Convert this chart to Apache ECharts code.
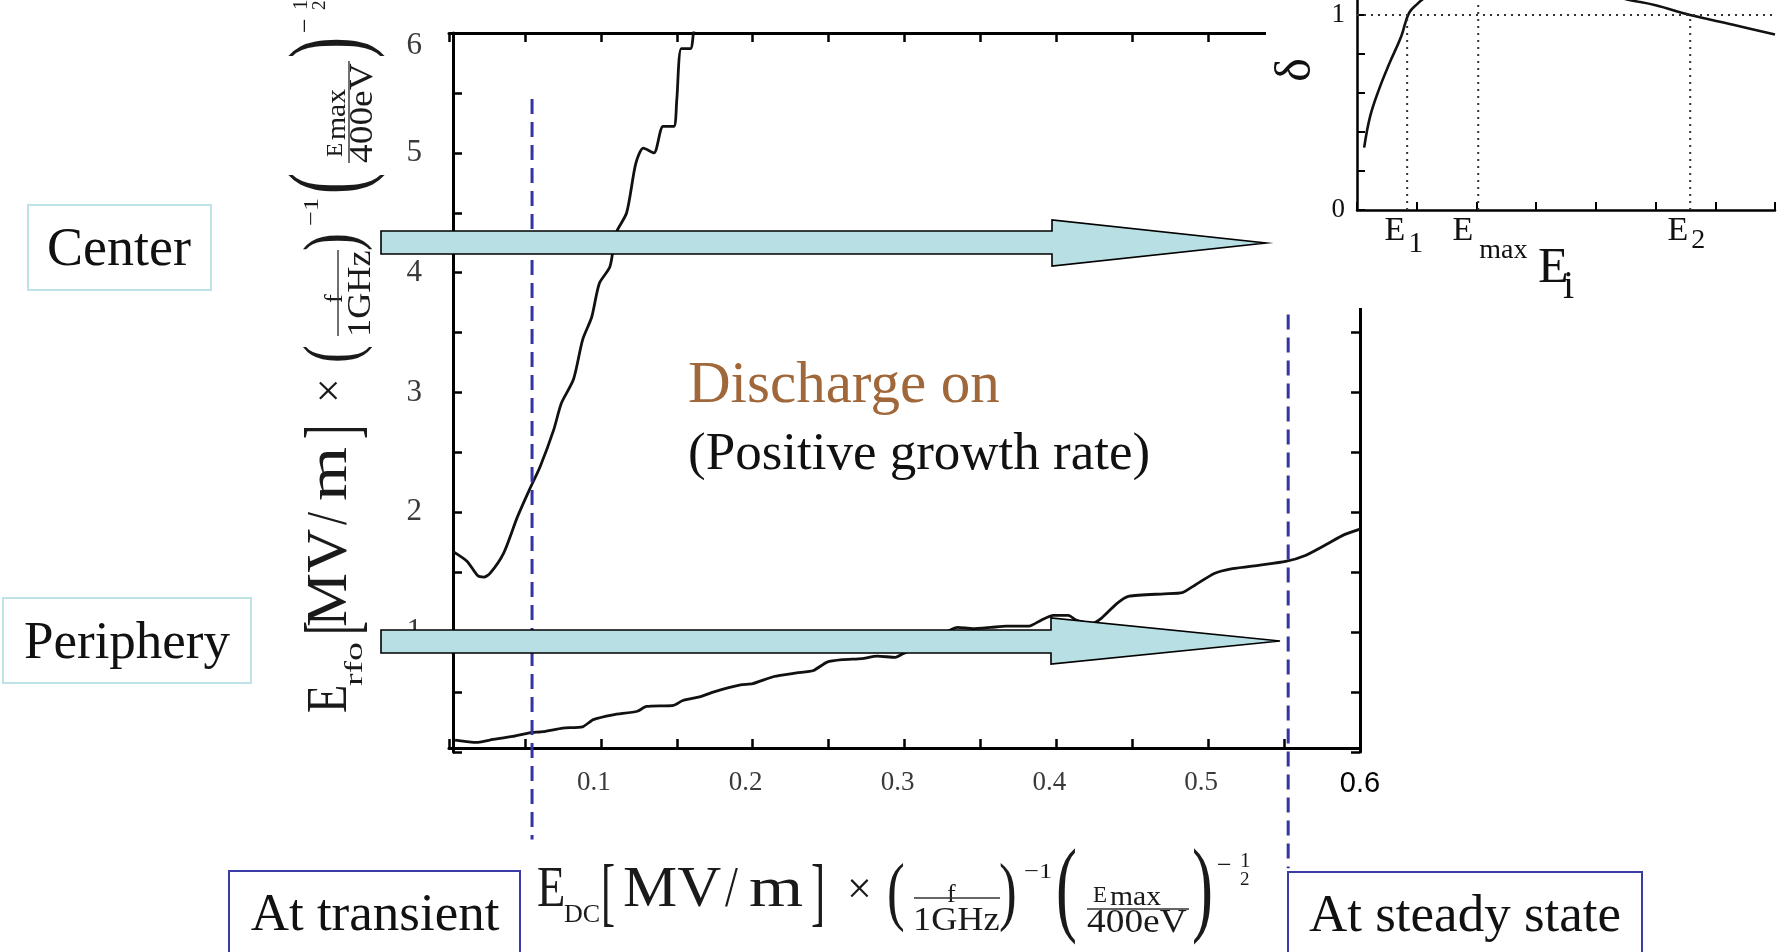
<!DOCTYPE html>
<html>
<head>
<meta charset="utf-8">
<title>Discharge onset map</title>
<script src="https://cdn.jsdelivr.net/npm/echarts@6.0.0/dist/echarts.min.js"></script>
<style>
  html, body { margin: 0; padding: 0; background: #fff; }
  #chart { width: 1785px; height: 952px; }
</style>
</head>
<body>
<div id="chart"></div>
<script>
(function () {
  'use strict';

  const SERIF = '"Liberation Serif", "Times New Roman", serif';
  const SANS = '"Liberation Sans", Arial, sans-serif';

  // main plot: threshold E_rfo vs E_DC
  const xRange = [0, 0.6];
  const yRange = [0, 6];
  const centerCurve = [
    [0.003, 1.67], [0.012, 1.59], [0.019, 1.47], [0.023, 1.46], [0.027, 1.49],
    [0.036, 1.66], [0.045, 1.96], [0.053, 2.19], [0.060, 2.38], [0.069, 2.69],
    [0.074, 2.91], [0.082, 3.11], [0.088, 3.44], [0.094, 3.63], [0.099, 3.91],
    [0.106, 4.05], [0.110, 4.33], [0.117, 4.50], [0.123, 4.91], [0.128, 5.04],
    [0.135, 5.00], [0.141, 5.22], [0.148, 5.22], [0.150, 5.44], [0.153, 5.87],
    [0.159, 5.87], [0.161, 6.00], [0.163, 6.15]
  ];
  const peripheryCurve = [
    [0.004, 0.10], [0.018, 0.08], [0.027, 0.10], [0.042, 0.13], [0.053, 0.16],
    [0.062, 0.17], [0.075, 0.20], [0.088, 0.21], [0.095, 0.27], [0.108, 0.31],
    [0.124, 0.34], [0.130, 0.38], [0.148, 0.39], [0.154, 0.43], [0.165, 0.46],
    [0.174, 0.50], [0.192, 0.56], [0.200, 0.57], [0.214, 0.63], [0.229, 0.66],
    [0.240, 0.68], [0.249, 0.75], [0.259, 0.77], [0.272, 0.78], [0.282, 0.80],
    [0.294, 0.79], [0.299, 0.82], [0.318, 0.93], [0.335, 1.04], [0.345, 1.03],
    [0.357, 1.04], [0.367, 1.05], [0.382, 1.05], [0.390, 1.10], [0.398, 1.14],
    [0.408, 1.14], [0.413, 1.10], [0.423, 1.07], [0.430, 1.12], [0.440, 1.24],
    [0.448, 1.30], [0.471, 1.32], [0.483, 1.33], [0.491, 1.39], [0.504, 1.49],
    [0.516, 1.53], [0.534, 1.56], [0.551, 1.59], [0.564, 1.64], [0.579, 1.74],
    [0.589, 1.81], [0.600, 1.86]
  ];
  // blue dashed markers: [x, yTop, yBottom]
  const transientLine = [0.0547, 5.45, -0.73];
  const steadyLine = [0.5527, 3.65, -0.97];

  // inset: secondary emission yield delta vs impact energy
  const insetXRange = [0, 7];
  const insetYRange = [0, 1.077];
  const insetXTicks = [0, 1, 2, 3, 4, 5, 6, 7];
  const insetYTicks = [0, 0.2, 0.4, 0.6, 0.8, 1];
  const insetYLabels = [0, 1];
  const deltaCurve = [
    [0.12, 0.32], [0.22, 0.48], [0.37, 0.62], [0.54, 0.75], [0.74, 0.89],
    [0.87, 1.01], [1.02, 1.06], [1.14, 1.09], [1.5, 1.17], [2.0, 1.21],
    [2.6, 1.21], [3.3, 1.17], [4.0, 1.12], [4.52, 1.08], [5.0, 1.05],
    [5.58, 1.00], [6.3, 0.95], [7.0, 0.90]
  ];
  const e1 = 0.84;
  const eMax = 2.03;
  const e2 = 5.58;

  // axis title formula pieces: [u, baseline v, size, text, scaleX]
  const formulaPieces = [
    [0, 0, 58, 'E', 0.8],
    [27, 15, 26, 'SUB', 1],
    ['BR', 11, 77, '[', 0.55],
    [86, 0, 58, 'MV', 1.05],
    [188, 0, 58, '/', 0.8],
    [212, 0, 58, 'm', 1.2],
    [274, 11, 77, ']', 0.55],
    [310, -4, 44, '\u00d7', 1],
    [350, 10, 76, '(', 0.7],
    [410, -5, 26, 'f', 1],
    [376, 23, 33, '1GHz', 1.1],
    [462, 10, 76, ')', 0.7],
    [487, -29, 22, '\u22121', 1.2],
    [519, 17, 105, '(', 0.6],
    [556, -5, 23, 'E', 1],
    [573, -2, 27, 'max', 1.1],
    [550, 25, 34, '400eV', 1.1],
    [655, 17, 105, ')', 0.6],
    [680, -34, 26, '\u2212', 1],
    [703, -40, 21, '1', 1],
    [703, -22, 19, '2', 1]
  ];
  const formulaBars = [[377, 463, -10], [550, 652, 1]];

  const chart = echarts.init(document.getElementById('chart'), null, { renderer: 'canvas' });

  const blackLine = { color: '#000', width: 3 };
  const tickLine = { color: '#000', width: 2.5 };

  function mainXAxis(position, showLabel) {
    return {
      type: 'value', gridIndex: 0, position,
      offset: position === 'bottom' ? -4 : 0,
      min: xRange[0], max: xRange[1], interval: 0.1,
      axisLine: { show: true, onZero: false, lineStyle: blackLine },
      axisTick: { show: true, inside: true, length: 9, lineStyle: tickLine },
      minorTick: { show: true, splitNumber: 2, length: 9, lineStyle: tickLine },
      splitLine: { show: false },
      axisLabel: showLabel ? {
        margin: 21, color: '#3a3a3a', fontFamily: SERIF, fontSize: 27,
        formatter(v) {
          const s = v.toFixed(1);
          if (s === '0.0') return '';
          if (s === '0.6') return '{b|0.6}';
          return '{a|' + s + '}';
        },
        rich: {
          a: { fontFamily: SERIF, color: '#3a3a3a', fontSize: 27, padding: [0, 14, 0, 0] },
          b: { fontFamily: SANS, color: '#000', fontSize: 29 }
        }
      } : { show: false }
    };
  }

  function mainYAxis(position, showLabel) {
    return {
      type: 'value', gridIndex: 0, position,
      offset: position === 'left' ? -4 : 0,
      min: yRange[0], max: yRange[1], interval: 1,
      axisLine: { show: true, onZero: false, lineStyle: blackLine },
      axisTick: { show: true, inside: true, length: 9, lineStyle: tickLine },
      minorTick: { show: true, splitNumber: 2, length: 9, lineStyle: tickLine },
      splitLine: { show: false },
      axisLabel: showLabel ? {
        margin: 31, color: '#3a3a3a', fontFamily: SERIF, fontSize: 31,
        formatter(v) {
          if (v === 0) return '';
          if (v === 6) return '{t|6}';
          return String(v);
        },
        rich: { t: { fontFamily: SERIF, fontSize: 31, color: '#3a3a3a', padding: [26, 0, 0, 0] } }
      } : { show: false }
    };
  }

  function lineSeries(data, xi, yi, style, extra) {
    return Object.assign({
      type: 'line', xAxisIndex: xi, yAxisIndex: yi, data,
      symbol: 'none', showSymbol: false, silent: true,
      lineStyle: style, z: 2
    }, extra || {});
  }

  const dotted = { color: '#333', width: 2, type: [2, 5] };

  const option = {
    backgroundColor: '#fff',
    animation: false,
    grid: [
      { left: 449, top: 33, width: 911, height: 719 },
      { left: 1357, top: 0, width: 418, height: 210 }
    ],
    xAxis: [
      mainXAxis('bottom', true),
      mainXAxis('top', false),
      {
        type: 'value', gridIndex: 1, position: 'bottom', z: 4,
        min: insetXRange[0], max: insetXRange[1],
        axisLine: { show: true, onZero: false, lineStyle: { color: '#000', width: 2.5 } },
        axisTick: { show: true, inside: true, length: 8, customValues: insetXTicks, lineStyle: { color: '#000', width: 2 } },
        splitLine: { show: false },
        axisLabel: { show: false }
      }
    ],
    yAxis: [
      mainYAxis('left', true),
      mainYAxis('right', false),
      {
        type: 'value', gridIndex: 1, position: 'left', z: 4,
        min: insetYRange[0], max: insetYRange[1],
        axisLine: { show: true, onZero: false, lineStyle: { color: '#000', width: 2.5 } },
        axisTick: { show: true, inside: true, length: 8, customValues: insetYTicks, lineStyle: { color: '#000', width: 2 } },
        splitLine: { show: false },
        axisLabel: {
          margin: 12, color: '#111', fontFamily: SERIF, fontSize: 27,
          customValues: insetYLabels,
          formatter: (v) => String(Math.round(v))
        }
      }
    ],
    series: [
      lineSeries(centerCurve, 0, 0, { color: '#111', width: 2.8 }, { smooth: 0.25 }),
      lineSeries(peripheryCurve, 0, 0, { color: '#111', width: 2.8 }, { smooth: 0.2 }),
      lineSeries([[transientLine[0], transientLine[1]], [transientLine[0], transientLine[2]]], 0, 0,
        { color: '#3434a2', width: 3, type: [15, 8] }, { clip: false }),
      lineSeries([[steadyLine[0], steadyLine[1]], [steadyLine[0], steadyLine[2]]], 0, 0,
        { color: '#3434a2', width: 3, type: [15, 8] }, { clip: false }),
      lineSeries(deltaCurve, 2, 2, { color: '#111', width: 2.6 }, { smooth: 0.4, z: 5 }),
      lineSeries([[0, 1], [insetXRange[1], 1]], 2, 2, dotted, { z: 5 }),
      lineSeries([[e1, 0], [e1, 1]], 2, 2, dotted, { z: 5 }),
      lineSeries([[eMax, 0], [eMax, insetYRange[1]]], 2, 2, dotted, { z: 5 }),
      lineSeries([[e2, 0], [e2, 1]], 2, 2, dotted, { z: 5 })
    ]
  };

  chart.setOption(option);

  function text(x, y, str, size, opts) {
    const o = opts || {};
    return {
      type: 'text', x, y: y + (o.rotation ? 0 : 0.05 * size), z: o.z || 6,
      rotation: o.rotation || 0,
      scaleX: o.scaleX || 1,
      silent: true,
      style: {
        text: str,
        font: size + 'px ' + (o.family || SERIF),
        fill: o.fill || '#111',
        align: o.align || 'left',
        verticalAlign: 'middle'
      }
    };
  }

  // sub: subscript text, subScale: its stretch, bracketU: where "[" starts
  function formula(sub, subScale, bracketU) {
    const kids = formulaPieces.map(([u, v, size, str, sx]) => {
      const isSub = str === 'SUB';
      return text(u === 'BR' ? bracketU : u, v - 0.34 * size, isSub ? sub : str, size,
        { scaleX: isSub ? subScale : sx, fill: '#1a1a1a' });
    });
    formulaBars.forEach(([u0, u1, v]) => {
      kids.push({
        type: 'line', z: 6, silent: true,
        shape: { x1: u0, y1: v, x2: u1, y2: v },
        style: { stroke: '#333', lineWidth: 1.4 }
      });
    });
    return kids;
  }

  function arrow(x0, x1, xTip, shaftTop, shaftBottom, headTop, headBottom) {
    const mid = (headTop + headBottom) / 2;
    return {
      type: 'polygon', z: 6, silent: true,
      shape: {
        points: [[x0, shaftTop], [x1, shaftTop], [x1, headTop], [xTip, mid],
          [x1, headBottom], [x1, shaftBottom], [x0, shaftBottom]]
      },
      style: { fill: '#b8e0e4', stroke: '#000', lineWidth: 1.6 }
    };
  }

  function box(x, y, w, h, color) {
    return {
      type: 'rect', z: 6, silent: true,
      shape: { x, y, width: w, height: h },
      style: { fill: 'rgba(0,0,0,0)', stroke: color, lineWidth: 2 }
    };
  }

  const toInset = (x, y) => chart.convertToPixel({ gridIndex: 1 }, [x, y]);
  const markers = [[e1, '1', 30, 14, 2], [eMax, 'max', 28, 20, 5], [e2, '2', 28, 10, 2]];
  const markerTexts = [];
  markers.forEach(([val, sub, subSize, subDy, gap]) => {
    const p = toInset(val, 0);
    markerTexts.push(text(p[0] - gap, 229, 'E', 34, { align: 'right' }));
    markerTexts.push(text(p[0] + 1, 229 + subDy, sub, subSize));
  });

  chart.setOption({
    graphic: [
      // white panel under the inset
      { type: 'rect', z: 3, silent: true, shape: { x: 1266, y: 0, width: 520, height: 308 }, style: { fill: '#fff' } },
      text(1297, 70, '\u03b4', 50, { rotation: Math.PI / 2, align: 'center' }),
      text(1538, 266, 'E', 50),
      text(1563, 285, 'i', 40),
      ...markerTexts,

      arrow(381, 1052, 1266, 231, 254, 220, 266),
      arrow(381, 1051, 1280, 630, 653, 618, 664),

      box(28, 205, 183, 85, '#bde3e6'),
      text(119, 248, 'Center', 54, { align: 'center' }),
      box(3, 598, 248, 85, '#bde3e6'),
      text(127, 641, 'Periphery', 53, { align: 'center' }),
      box(229, 871, 291, 100, '#3c3ca8'),
      text(375, 913, 'At transient', 53, { align: 'center' }),
      box(1288, 872, 354, 100, '#3c3ca8'),
      text(1465, 914, 'At steady state', 53, { align: 'center' }),

      text(688, 384, 'Discharge on', 59, { fill: '#a0683a' }),
      text(688, 452, '(Positive growth rate)', 53),

      { type: 'group', x: 537, y: 908, z: 6, children: formula('DC', 1, 64) },
      { type: 'group', x: 348, y: 713, rotation: Math.PI / 2, z: 6, children: formula('rfo', 1.45, 78) }
    ]
  });

  window.addEventListener('resize', () => chart.resize());
})();
</script>
</body>
</html>
